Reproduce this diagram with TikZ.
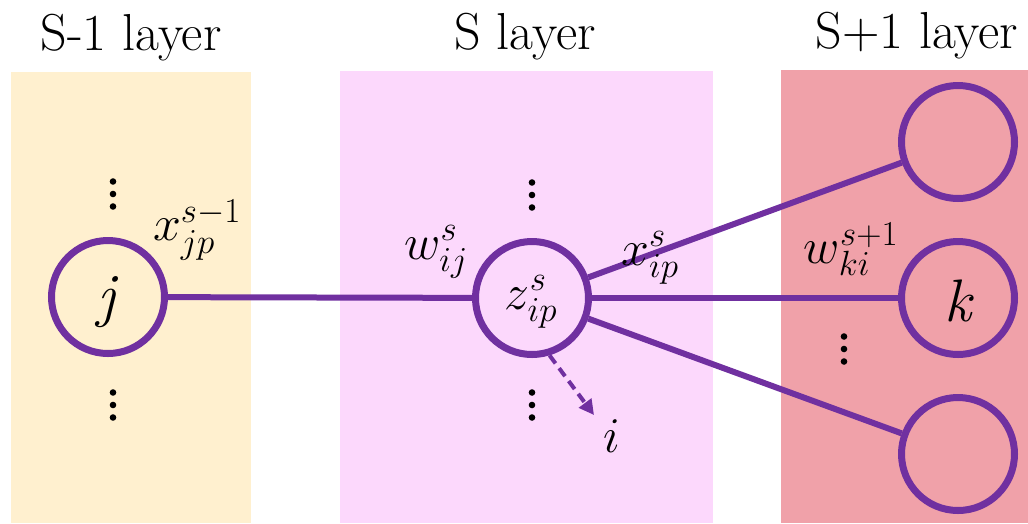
\RequirePackage{fix-cm}
\documentclass[tikz,border=0pt]{standalone}
\usetikzlibrary{arrows.meta}
\definecolor{nnpurple}{RGB}{112,48,160}
\definecolor{layerA}{RGB}{255,240,207}
\definecolor{layerB}{RGB}{252,216,252}
\definecolor{layerC}{RGB}{240,161,169}
\begin{document}
\begin{tikzpicture}[x=1pt,y=-1pt,
  neuron/.style={circle,draw=nnpurple,line width=7pt,minimum size=113pt,inner sep=0pt},
  link/.style={draw=nnpurple,line width=6pt},
  dashlink/.style={draw=nnpurple,line width=4pt,dash pattern=on 10pt off 6pt,
    -{Triangle[length=15pt,width=15pt,fill=nnpurple]}},
  title/.style={font=\fontsize{52}{60}\selectfont,anchor=base,inner sep=0pt},
  lbl/.style={font=\fontsize{50}{56}\selectfont,inner sep=0pt},
  bigit/.style={font=\fontsize{60}{66}\selectfont\itshape,inner sep=0pt}
]
\useasboundingbox (0,0) rectangle (1028,523);
% layer bands
\fill[layerA] (11,72) rectangle (251,523);
\fill[layerB] (340,71) rectangle (713,523);
\fill[layerC] (781,70) rectangle (1028,523);
% titles
\node[title] (t1) at (131,50) {S-1 layer};
\node[title] (t2) at (525,49) {S layer};
\node[title] (t3) at (917,48) {S+1 layer};
% neurons
\node[neuron] (j) at (108,297) {};
\node[neuron] (z) at (532,298) {};
\node[neuron] (top) at (958,142) {};
\node[neuron] (k) at (958,298) {};
\node[neuron] (bot) at (958,454) {};
\node[bigit] (jlab) at (106,302) {j};
\node[bigit] (klab) at (958,301) {k};
\node[lbl] (zlab) at (531,302) {$z^{s}_{ip}$};
% connectors
\draw[link] (j) -- (z);
\draw[link] (z) -- (top);
\draw[link] (z) -- (k);
\draw[link] (z) -- (bot);
\coordinate (iend) at (594,415);
\draw[dashlink] (z.-73) -- (iend);
% labels
\node[lbl] (xj) at (197,230) {$x^{s-1}_{jp}$};
\node[lbl] (wij) at (436,252) {$w^{s}_{ij}$};
\node[lbl] (xi) at (650,258) {$x^{s}_{ip}$};
\node[lbl] (wki) at (851,249) {$w^{s+1}_{ki}$};
\node[lbl] (ilab) at (612,436) {$i$};
% vertical dots
\foreach \x/\y in {113/194,113/405,532/195,532/405,844/349}{
  \foreach \d in {-12.5,0,12.5}{\fill (\x,\y+\d) circle (3.3);}
}
\end{tikzpicture}
\end{document}
